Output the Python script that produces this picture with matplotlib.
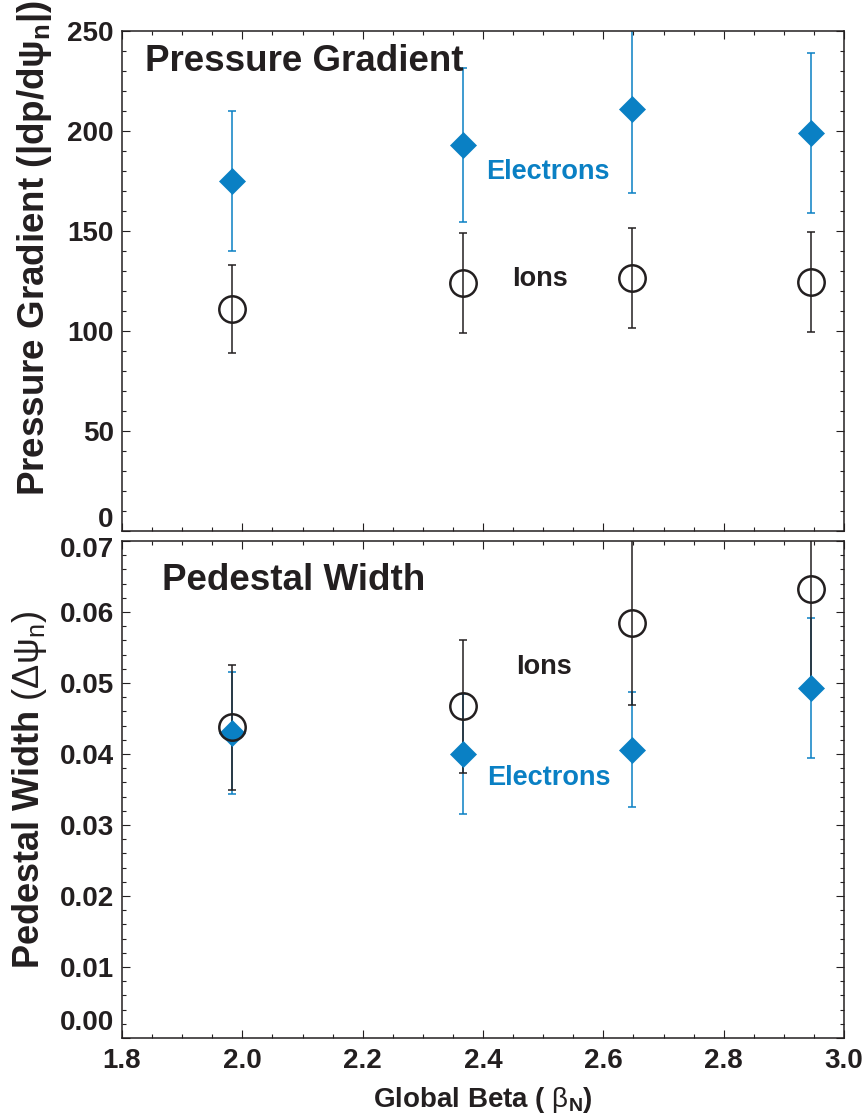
#!/usr/bin/env python3
"""Pedestal pressure gradient and width vs global beta, electrons and ions."""

import matplotlib

matplotlib.use("Agg")
import matplotlib.pyplot as plt
from matplotlib.ticker import MultipleLocator, FuncFormatter

plt.rcParams["font.family"] = ["Liberation Sans", "DejaVu Sans"]
plt.rcParams["font.weight"] = "bold"
plt.rcParams["axes.labelweight"] = "bold"
plt.rcParams["mathtext.fontset"] = "custom"
plt.rcParams["mathtext.rm"] = "Liberation Sans:weight=normal"
plt.rcParams["mathtext.it"] = "Liberation Sans:italic:weight=normal"
plt.rcParams["mathtext.bf"] = "Liberation Sans:bold"

INK = "#231F20"
BLUE = "#0A80C4"

# global beta of the four discharges
beta_n = [1.983, 2.367, 2.647, 2.945]

# |dp/dpsi_n| at the pedestal
grad_e = [175.0, 193.0, 211.0, 199.0]
grad_e_err = [35.0, 38.5, 42.0, 40.0]
grad_i = [111.0, 124.0, 126.5, 124.3]
grad_i_err = [22.0, 25.0, 25.2, 25.0]

# pedestal width in psi_n
width_e = [0.0430, 0.0400, 0.0406, 0.0493]
width_e_err = [0.0086, 0.0084, 0.0081, 0.0099]
width_i = [0.0438, 0.0467, 0.0585, 0.0633]
width_i_err = [0.0088, 0.0094, 0.0116, 0.0144]

W, H = 867, 1118
fig = plt.figure(figsize=(W / 100, H / 100), dpi=100)


def _box(left, top, right, bottom):
    return [left / W, 1 - bottom / H, (right - left) / W, (bottom - top) / H]


ax_g = fig.add_axes(_box(122, 31, 844, 531))
ax_w = fig.add_axes(_box(122, 541, 844, 1038))


def _style(ax):
    for sp in ax.spines.values():
        sp.set_color(INK)
        sp.set_linewidth(1.1)
    ax.tick_params(which="both", direction="in", top=True, right=True,
                   colors=INK, width=0.8)
    ax.tick_params(which="major", length=5.5, labelsize=20)
    ax.tick_params(which="minor", length=3)
    ax.tick_params(axis="y", pad=6)
    ax.tick_params(axis="x", pad=7)
    ax.set_xlim(1.8, 3.0)
    ax.xaxis.set_major_locator(MultipleLocator(0.2))
    ax.xaxis.set_minor_locator(MultipleLocator(0.05))
    ax.xaxis.set_major_formatter(FuncFormatter(lambda v, _: "%.1f" % v))


def _yfmt(fmt, nudged):
    # end labels are drawn separately, nudged off the panel corners
    def f(v, _):
        if any(abs(v - n) < 1e-9 for n in nudged):
            return ""
        return fmt % v
    return FuncFormatter(f)


def _end_label(ax, value, text, dy_pt):
    ax.annotate(text, xy=(0, value), xycoords=ax.get_yaxis_transform(),
                xytext=(-6, dy_pt), textcoords="offset points",
                ha="right", va="center", fontsize=20, color=INK,
                annotation_clip=False)


def _series(ax, ye, ye_err, yi, yi_err):
    ax.errorbar(beta_n, ye, yerr=ye_err, fmt="none", ecolor=BLUE,
                elinewidth=1.1, capsize=2.9, capthick=1.1, zorder=2)
    ax.errorbar(beta_n, yi, yerr=yi_err, fmt="none", ecolor=INK,
                elinewidth=1.1, capsize=2.9, capthick=1.1, zorder=3)
    ax.plot(beta_n, ye, ls="none", marker="D", ms=13.5, mfc=BLUE,
            mec=BLUE, mew=0.5, zorder=4)
    ax.plot(beta_n, yi, ls="none", marker="o", ms=19, mfc="none",
            mec=INK, mew=1.8, zorder=5)


# top: pressure gradient
_style(ax_g)
ax_g.set_ylim(0, 250)
ax_g.yaxis.set_major_locator(MultipleLocator(50))
ax_g.yaxis.set_minor_locator(MultipleLocator(10))
ax_g.yaxis.set_major_formatter(_yfmt("%d", [0]))
_end_label(ax_g, 0, "0", 8)
ax_g.tick_params(axis="x", labelbottom=False)
_series(ax_g, grad_e, grad_e_err, grad_i, grad_i_err)
ax_g.set_ylabel("Pressure Gradient (|dp/d$\\mathregular{ψ_n}$|)",
                fontsize=26.5, color=INK)
ax_g.yaxis.set_label_coords(-0.094, 0.566)
ax_g.text(0.032, 0.92, "Pressure Gradient", transform=ax_g.transAxes,
          fontsize=26.5, color=INK, va="baseline")
ax_g.text(0.504, 0.704, "Electrons", transform=ax_g.transAxes,
          fontsize=19.5, color=BLUE, va="baseline")
ax_g.text(0.540, 0.49, "Ions", transform=ax_g.transAxes,
          fontsize=19.5, color=INK, va="baseline")

# bottom: pedestal width
_style(ax_w)
ax_w.set_ylim(0, 0.07)
ax_w.yaxis.set_major_locator(MultipleLocator(0.01))
ax_w.yaxis.set_minor_locator(MultipleLocator(0.002))
ax_w.yaxis.set_major_formatter(_yfmt("%.2f", [0.0, 0.07]))
_end_label(ax_w, 0.0, "0.00", 11)
_end_label(ax_w, 0.07, "0.07", -6.5)
_series(ax_w, width_e, width_e_err, width_i, width_i_err)
ax_w.set_ylabel("Pedestal Width $\\mathrm{(Δψ_n)}$", fontsize=26, color=INK)
ax_w.yaxis.set_label_coords(-0.101, 0.5)
ax_w.set_xlabel("Global Beta ( $\\mathrm{β}_{\\mathregular{N}}$)",
                fontsize=20, color=INK, labelpad=8)
ax_w.text(0.0555, 0.901, "Pedestal Width", transform=ax_w.transAxes,
          fontsize=26.5, color=INK, va="baseline")
ax_w.text(0.546, 0.732, "Ions", transform=ax_w.transAxes,
          fontsize=19.5, color=INK, va="baseline")
ax_w.text(0.506, 0.509, "Electrons", transform=ax_w.transAxes,
          fontsize=19.5, color=BLUE, va="baseline")

fig.savefig("out.png", dpi=100)
